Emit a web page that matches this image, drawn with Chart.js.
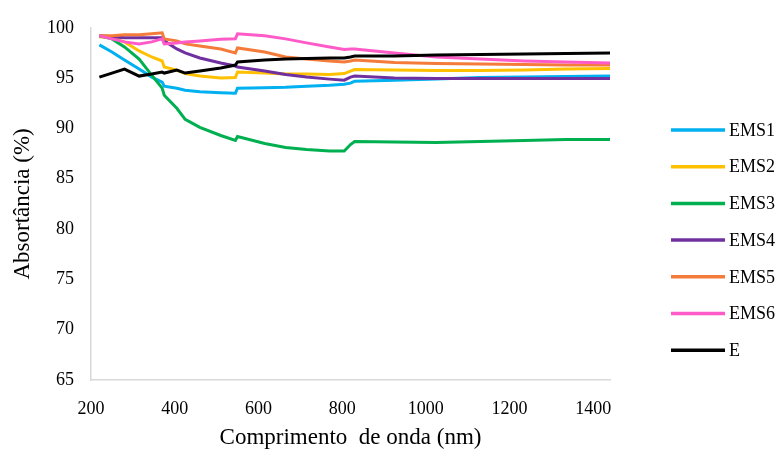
<!DOCTYPE html>
<html>
<head>
<meta charset="utf-8">
<script src="https://cdn.jsdelivr.net/npm/chart.js@4/dist/chart.umd.min.js"></script>
<style>
  html, body { margin: 0; padding: 0; background: #fff; }
  #wrap { width: 781px; height: 453px; }
</style>
</head>
<body>
<div id="wrap"><canvas id="chart" width="781" height="453"></canvas></div>
<script>
// wavelength (nm) and absorptance (%)
const wavelengths = [220, 250, 280, 315, 345, 370, 375, 405, 425, 460, 510, 545, 550, 615, 665, 715, 770, 805, 820, 830, 925, 1025, 1130, 1235, 1335, 1440];
const ems1 = [98.3, 97.6, 96.8, 95.9, 95.1, 94.6, 94.2, 94.0, 93.8, 93.65, 93.55, 93.5, 94.0, 94.05, 94.1, 94.2, 94.3, 94.4, 94.5, 94.7, 94.8, 94.9, 95.05, 95.1, 95.15, 95.2];
const ems2 = [99.1, 99.0, 98.6, 97.7, 97.1, 96.7, 96.1, 95.8, 95.45, 95.2, 95.0, 95.05, 95.6, 95.5, 95.4, 95.4, 95.35, 95.45, 95.7, 95.85, 95.8, 95.75, 95.75, 95.8, 95.9, 95.95];
const ems3 = [99.2, 98.9, 98.1, 96.9, 95.3, 94.0, 93.3, 92.0, 90.9, 90.1, 89.3, 88.8, 89.2, 88.5, 88.1, 87.9, 87.75, 87.75, 88.4, 88.7, 88.65, 88.6, 88.7, 88.8, 88.9, 88.9];
const ems4 = [99.2, 99.1, 99.0, 99.0, 99.0, 99.0, 98.7, 97.9, 97.5, 97.0, 96.5, 96.2, 96.1, 95.7, 95.35, 95.1, 94.9, 94.8, 95.1, 95.2, 95.0, 94.95, 94.95, 94.95, 94.95, 94.95];
const ems5 = [99.2, 99.2, 99.3, 99.3, 99.4, 99.5, 98.9, 98.7, 98.4, 98.2, 97.9, 97.5, 98.0, 97.6, 97.1, 96.9, 96.7, 96.6, 96.7, 96.8, 96.55, 96.45, 96.4, 96.35, 96.3, 96.3];
const ems6 = [99.2, 98.9, 98.6, 98.4, 98.6, 98.9, 98.4, 98.5, 98.6, 98.7, 98.85, 98.9, 99.4, 99.2, 98.9, 98.5, 98.1, 97.85, 97.9, 97.9, 97.5, 97.1, 96.9, 96.7, 96.6, 96.5];
const eRef = [95.1, 95.5, 95.9, 95.2, 95.4, 95.6, 95.5, 95.8, 95.5, 95.7, 96.0, 96.3, 96.6, 96.8, 96.9, 96.95, 97.0, 97.0, 97.1, 97.2, 97.2, 97.3, 97.35, 97.4, 97.45, 97.5];

const xTickValues = [200, 400, 600, 800, 1000, 1200, 1400];
const yTickValues = [65, 70, 75, 80, 85, 90, 95, 100];

const seriesNames = ['EMS1', 'EMS2', 'EMS3', 'EMS4', 'EMS5', 'EMS6', 'E'];
const seriesValues = [ems1, ems2, ems3, ems4, ems5, ems6, eRef];
const seriesColors = ['#00B0F0', '#FFC000', '#00B050', '#7030A0', '#F47B3A', '#FF5BC8', '#000000'];

const FONT = "'Liberation Serif', 'Times New Roman', serif";

const datasets = seriesNames.map((name, i) => ({
  label: name,
  data: wavelengths.map((w, j) => ({ x: w, y: seriesValues[i][j] })),
  borderColor: seriesColors[i],
  backgroundColor: seriesColors[i],
  borderWidth: 3,
  pointRadius: 0,
  tension: 0,
  // later series drawn on top, like the original
  order: seriesNames.length - i
}));

// legend drawn by hand on the right
const sideLegend = {
  id: 'sideLegend',
  afterDraw(chart) {
    const ctx = chart.ctx;
    ctx.save();
    ctx.font = '18px ' + FONT;
    ctx.textBaseline = 'middle';
    ctx.fillStyle = '#000';
    seriesNames.forEach((name, i) => {
      const y = 130 + i * 36.7;
      ctx.strokeStyle = seriesColors[i];
      ctx.lineWidth = 3.5;
      ctx.beginPath();
      ctx.moveTo(671, y);
      ctx.lineTo(725, y);
      ctx.stroke();
      ctx.fillText(name, 729, y + 1);
    });
    ctx.restore();
  }
};

new Chart(document.getElementById('chart'), {
  type: 'line',
  data: { datasets },
  options: {
    responsive: false,
    animation: false,
    layout: { padding: { left: 0, right: 171, top: 25, bottom: 0 } },
    plugins: { legend: { display: false }, tooltip: { enabled: false } },
    scales: {
      x: {
        type: 'linear',
        min: 200, max: 1440,
        border: { display: true, color: '#d9d9d9', width: 1.5 },
        grid: { display: false, drawTicks: false },
        afterBuildTicks(s) { s.ticks = xTickValues.map(v => ({ value: v })); },
        ticks: { padding: 18, color: '#000', font: { family: FONT, size: 18 },
                 callback: v => String(v) },
        title: { display: true, text: 'Comprimento  de onda (nm)', color: '#000',
                 font: { family: FONT, size: 23 }, padding: { top: 0, bottom: 1 } },
        afterFit(s) { s.height = 73; }
      },
      y: {
        min: 65, max: 100,
        border: { display: true, color: '#d9d9d9', width: 1.5 },
        grid: { display: false, drawTicks: false },
        afterBuildTicks(s) { s.ticks = yTickValues.map(v => ({ value: v })); },
        ticks: { padding: 17, color: '#000', font: { family: FONT, size: 18 },
                 callback: v => String(v) },
        title: { display: true, text: 'Absortância (%)', color: '#000',
                 font: { family: FONT, size: 23 }, padding: { top: 9, bottom: 0 } },
        afterFit(s) { s.width = 91; }
      }
    }
  },
  plugins: [sideLegend]
});
</script>
</body>
</html>
